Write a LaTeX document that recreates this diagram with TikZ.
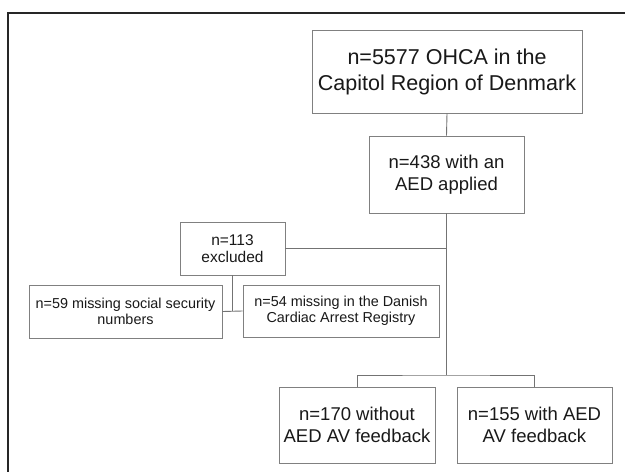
\documentclass[tikz,border=0pt]{standalone}
\usepackage{fontspec}
\setmainfont{Liberation Sans}
\tikzset{
  box/.style={draw=black!50, line width=0.9pt, align=center, inner sep=0pt, text=black!90},
  link/.style={draw=black!55, line width=0.9pt},
  big/.style={font=\fontsize{21.5}{26}\selectfont},
  mid/.style={font=\fontsize{18.5}{21.5}\selectfont},
  sml/.style={font=\fontsize{15.5}{17.5}\selectfont},
  tiny/.style={font=\fontsize{14.4}{16}\selectfont},
}
\begin{document}
\begin{tikzpicture}[x=1pt,y=-1pt]
\useasboundingbox (0,0) rectangle (625,472);
\fill[white] (0,0) rectangle (625,472);
\draw[line width=2.4pt, black!85] (625,13) -- (8,13) -- (8,473);
\node[box,big,minimum width=270pt,minimum height=83pt] (top) at (447,71.5) {n=5577 OHCA in the\\Capitol Region of Denmark};
\node[box,mid,minimum width=155pt,minimum height=77pt] (aed) at (446.5,174.5) {n=438 with an\\AED applied};
\node[box,sml,minimum width=105pt,minimum height=53pt] (exc) at (232.5,248.5) {n=113\\excluded};
\node[box,tiny,minimum width=193pt,minimum height=53pt] (ssn) at (125.5,311.5) {n=59 missing social security\\numbers};
\node[box,tiny,minimum width=196pt,minimum height=52pt] (reg) at (341,311) {n=54 missing in the Danish\\Cardiac Arrest Registry};
\node[box,mid,minimum width=156pt,minimum height=76pt] (without) at (357,425) {n=170 without\\AED AV feedback};
\node[box,mid,minimum width=155pt,minimum height=76pt] (with) at (534.5,425) {n=155 with AED\\AV feedback};
\coordinate (split) at (446.5,375);
\coordinate (exjoin) at (446.5,248.5);
\coordinate (subjoin) at (232.5,311);
\draw[link] (top.south) -- (aed.north);
\draw[link] (aed.south) -- (split);
\draw[link] (exc.east) -- (exjoin);
\draw[link] (without.north) |- (split) -| (with.north);
\draw[link] (exc.south) -- (subjoin);
\draw[link] (ssn.east) -- (reg.west);
\end{tikzpicture}
\end{document}
